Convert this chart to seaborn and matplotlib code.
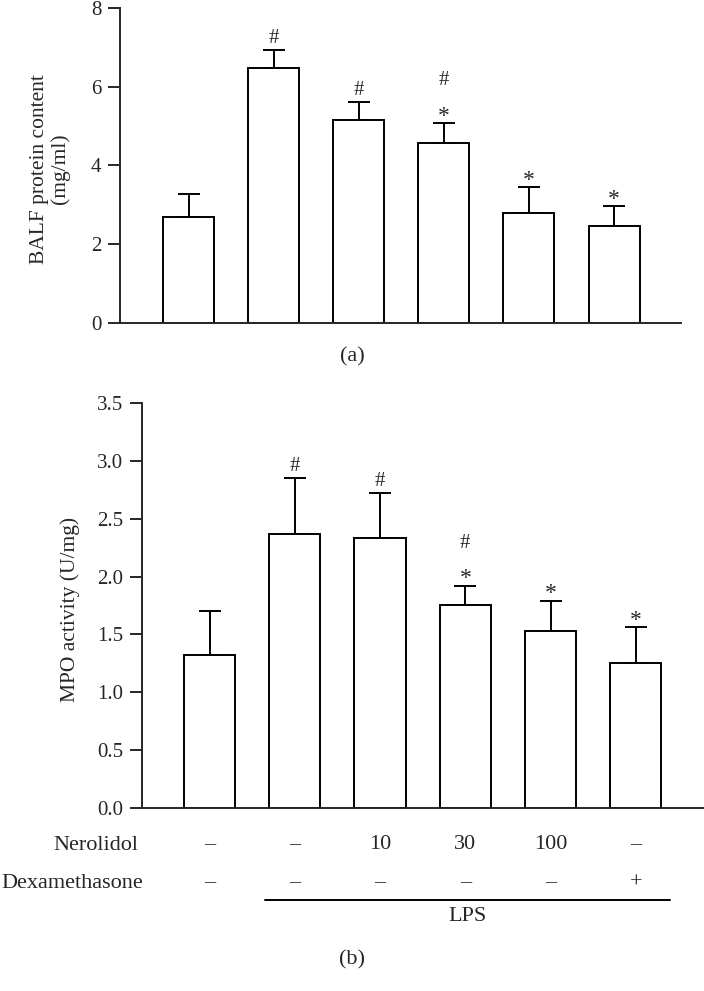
import numpy as np
import pandas as pd
import matplotlib
matplotlib.use('Agg')
import matplotlib.pyplot as plt
import seaborn as sns

# panel (a): BALF protein content
groups = ['Control', 'LPS', 'LPS+N10', 'LPS+N30', 'LPS+N100', 'LPS+Dex']
balf_mean = [2.68, 6.48, 5.16, 4.58, 2.79, 2.47]
balf_err = [0.60, 0.46, 0.45, 0.50, 0.66, 0.50]
balf_marks = [[], ['#'], ['#'], ['*', '#'], ['*'], ['*']]

# panel (b): MPO activity
mpo_mean = [1.32, 2.37, 2.33, 1.75, 1.53, 1.25]
mpo_err = [0.38, 0.48, 0.39, 0.17, 0.26, 0.31]
mpo_marks = [[], ['#'], ['#'], ['*', '#'], ['*'], ['*']]

# treatment table under panel (b)
nerolidol = ['\u2013', '\u2013', '10', '30', '100', '\u2013']
dexamethasone = ['\u2013', '\u2013', '\u2013', '\u2013', '\u2013', '+']

sns.set_theme(style='ticks')
plt.rcParams['font.family'] = ['Liberation Serif', 'DejaVu Serif']
plt.rcParams['axes.linewidth'] = 1.4

fig = plt.figure(figsize=(7.04, 9.91), dpi=100)
ax_a = fig.add_axes([0.1705, 0.6741, 0.7969, 0.3178])
ax_b = fig.add_axes([0.2017, 0.1847, 0.7983, 0.4087])


def draw_panel(ax, mean, err, marks, ylim, yticks, ylabel, label_x):
    df = pd.DataFrame({'group': groups, 'value': mean})
    sns.barplot(data=df, x='group', y='value', ax=ax, color='white',
                saturation=1, edgecolor='black', linewidth=1.4,
                width=0.6, errorbar=None, zorder=2)
    x = np.arange(len(mean))
    ax.errorbar(x, mean, yerr=[np.zeros(len(err)), err], fmt='none',
                ecolor='black', elinewidth=1.4, capsize=8, capthick=1.4,
                zorder=1)
    for i, sym in enumerate(marks):
        top = mean[i] + err[i]
        for k, s in enumerate(sym):
            if k > 0:
                off = 27
            elif s == '*':
                off = 1
            else:
                off = 5
            ax.annotate(s, (i, top), xytext=(0, off), textcoords='offset points',
                        ha='center', va='baseline',
                        fontsize=17 if s == '*' else 15)
    ax.set_ylim(ylim)
    ax.set_yticks(yticks)
    ax.set_xticks([])
    ax.set_xlabel('')
    ax.set_ylabel(ylabel, fontsize=15.5, linespacing=1.1)
    ax.yaxis.set_label_coords(label_x, 0.49)
    ax.yaxis.label.set_va('center')
    ax.tick_params(axis='y', direction='out', length=8.6, width=1.4,
                   labelsize=15, pad=5)
    sns.despine(ax=ax)


draw_panel(ax_a, balf_mean, balf_err, balf_marks, (0, 8), [0, 2, 4, 6, 8],
           'BALF protein content\n(mg/ml)', -0.125)
ax_a.set_xlim(-0.805, 5.787)

draw_panel(ax_b, mpo_mean, mpo_err, mpo_marks, (0, 3.5),
           np.arange(0, 3.51, 0.5), 'MPO activity (U/mg)', -0.128)
ax_b.set_yticklabels([f'{v:.1f}' for v in np.arange(0, 3.51, 0.5)])
ax_b.set_xlim(-0.792, 5.80)

# treatment rows under panel (b)
trans = ax_b.get_xaxis_transform()
fig.text(0.197, 1 - 845 / 991, 'Nerolidol', ha='right', va='center', fontsize=16)
fig.text(0.203, 1 - 883 / 991, 'Dexamethasone', ha='right', va='center', fontsize=16)
row_y1 = -(845 - 808) / 405
row_y2 = -(883 - 808) / 405
for i, (n, d) in enumerate(zip(nerolidol, dexamethasone)):
    ax_b.text(i, row_y1, n, transform=trans, ha='center', va='center', fontsize=16)
    ax_b.text(i, row_y2, d, transform=trans, ha='center', va='center', fontsize=16)
line_y = -(900 - 808) / 405
ax_b.plot([0.65, 5.40], [line_y, line_y], transform=trans, color='black',
          lw=1.4, clip_on=False)
ax_b.text(3.03, -(917 - 808) / 405, 'LPS', transform=trans, ha='center',
          va='center', fontsize=16)

fig.text(0.5, 1 - 357 / 991, '(a)', ha='center', va='center', fontsize=16)
fig.text(0.5, 1 - 960 / 991, '(b)', ha='center', va='center', fontsize=16)

fig.savefig('out.png', dpi=100)
